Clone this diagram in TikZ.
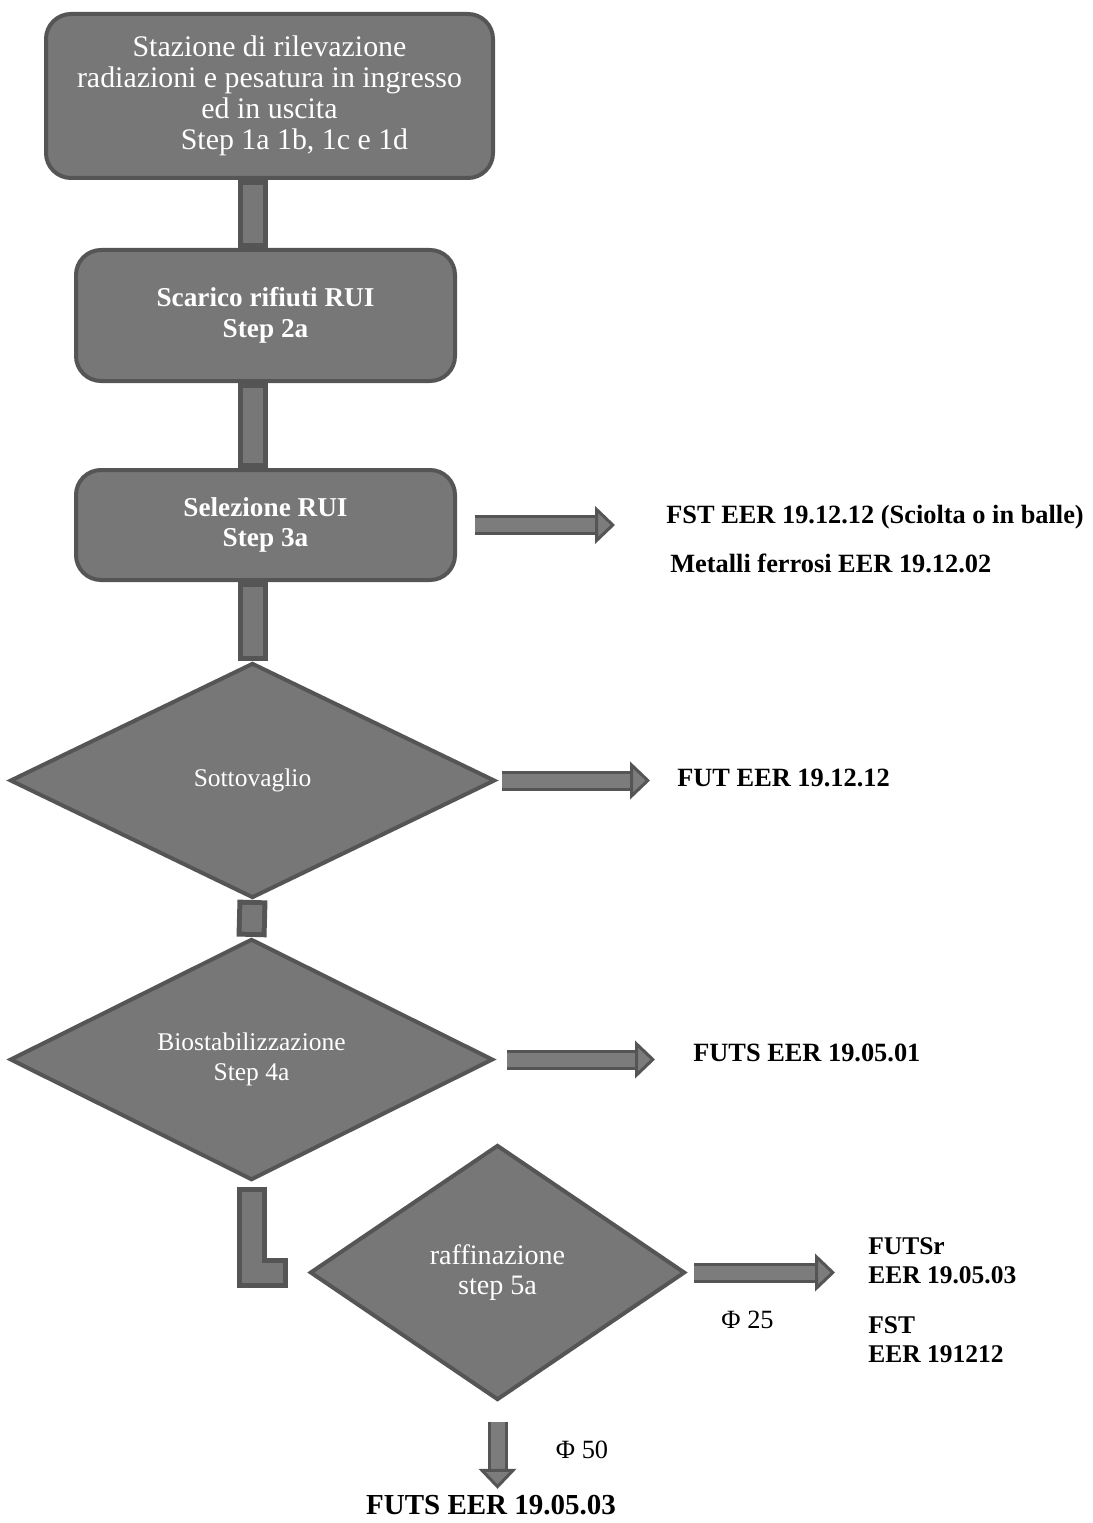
\documentclass[tikz,border=0pt]{standalone}
\usepackage{fontspec}
\setmainfont{Liberation Serif}
\usetikzlibrary{shapes.geometric,arrows.meta,backgrounds}
\definecolor{boxgray}{HTML}{777777}
\definecolor{edgegray}{HTML}{555555}
\definecolor{flowgray}{HTML}{7C7C7C}

\begin{document}
\begin{tikzpicture}[box node/.style={rectangle,rounded corners=0.5cm,fill=boxgray,draw=edgegray,line width=0.08cm,text=white,align=center,font=\fontsize{17}{17.6}\selectfont},
  choice node/.style={diamond,fill=boxgray,draw=edgegray,line width=0.08cm,text=white,align=center,inner sep=0pt,font=\fontsize{14.5}{17}\selectfont},
  out node/.style={anchor=west,align=left,inner sep=0pt,font=\bfseries\fontsize{15}{16.5}\selectfont},
  bar/.style={draw=edgegray,line width=0.1cm,double=boxgray,double distance=0.4cm,line cap=rect},
  flow/.style={draw=edgegray,line width=0.06cm,double=flowgray,double distance=0.28cm,-{Triangle[length=0.4cm,width=0.75cm,fill=flowgray]}}]

\useasboundingbox (0,0) rectangle (21.86,-30.46);

\node at (5.39,-1.92) [box node,minimum width=8.94cm,minimum height=3.28cm] (st) {Stazione di rilevazione\\radiazioni e pesatura in ingresso\\ed in uscita\\\hspace*{1cm}Step 1a 1b, 1c e 1d};
\node at (5.31,-6.31) [box node,minimum width=7.58cm,minimum height=2.62cm,font=\bfseries\fontsize{15.5}{17.5}\selectfont] (sca) {Scarico rifiuti RUI\\Step 2a};
\node at (5.31,-10.5) [box node,minimum width=7.58cm,minimum height=2.2cm,font=\bfseries\fontsize{15.5}{17.5}\selectfont] (sel) {Selezione RUI\\Step 3a};
\node at (5.05,-15.61) [choice node,minimum width=9.7cm,minimum height=4.7cm] (sot) {Sottovaglio};
\node at (5.03,-21.19) [choice node,minimum width=9.66cm,minimum height=4.7cm] (bio) {Biostabilizzazione\\Step 4a};
\node at (9.95,-25.45) [choice node,minimum width=7.5cm,minimum height=5.1cm,font=\fontsize{16}{17.5}\selectfont] (raf) {raffinazione\\step 5a};

% uscite
\node at (13.32,-10.34) [out node] (fst) {FST EER 19.12.12 (Sciolta o in balle)};
\node at (13.4,-11.26) [out node] (fer) {Metalli ferrosi EER 19.12.02};
\node at (13.54,-15.56) [out node] (fut) {FUT EER 19.12.12};
\node at (13.86,-21.06) [out node] (futs) {FUTS EER 19.05.01};
\node at (17.36,-25.22) [out node,font=\bfseries\fontsize{14.5}{16.5}\selectfont] (futsr) {FUTSr\\EER 19.05.03};
\node at (17.36,-26.8) [out node,font=\bfseries\fontsize{14.5}{16.5}\selectfont] (fstb) {FST\\EER 191212};
\node at (14.95,-26.4) [font=\fontsize{15}{16}\selectfont] (phia) {Φ 25};
\node at (11.64,-29.0) [font=\fontsize{15}{16}\selectfont] (phib) {Φ 50};
\node at (9.82,-30.1) [out node,anchor=center,font=\bfseries\fontsize{16.5}{17}\selectfont] (futsb) {FUTS EER 19.05.03};

\begin{scope}[on background layer]
\draw[bar,shorten <=0.3cm,shorten >=0.3cm] (st.south -| sot.north) -- (sca.north -| sot.north);
\draw[bar,shorten <=0.3cm,shorten >=0.3cm] (sca.south -| sot.north) -- (sel.north -| sot.north);
\draw[bar,shorten <=0.3cm,shorten >=0.3cm] (sel.south -| sot.north) -- (sot.north);
\draw[bar,shorten <=0.3cm,shorten >=0.3cm] (sot.south) -- (bio.north);
\draw[bar,shorten <=0.4cm,shorten >=0.7cm] (bio.south) |- (raf.west);
\end{scope}

\draw[flow,shorten <=0.36cm,shorten >=1.02cm] (sel.east) -- (sel.east -| fst.west);
\draw[flow,shorten <=0.1cm,shorten >=0.54cm] (sot.east) -- (sot.east -| fut.west);
\draw[flow,shorten <=0.24cm,shorten >=0.76cm] (bio.east) -- (bio.east -| futs.west);
\draw[flow,shorten <=0.14cm,shorten >=0.66cm] (raf.east) -- (raf.east -| futsr.west);
\draw[flow,shorten <=0.4cm,shorten >=0.12cm] (raf.south) -- (raf.south |- futsb.north);

\end{tikzpicture}
\end{document}
